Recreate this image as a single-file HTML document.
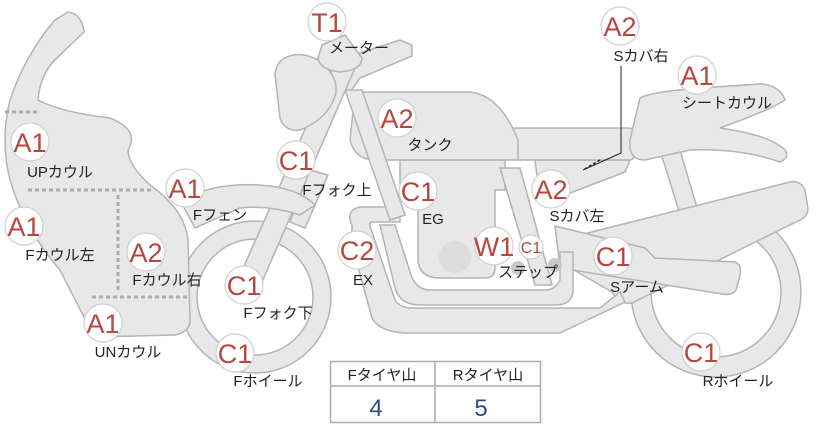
<!DOCTYPE html>
<html><head><meta charset="utf-8"><style>
html,body{margin:0;padding:0;background:#fff;width:822px;height:425px;overflow:hidden}
svg{display:block}
.s{fill:#e8e8e8;stroke:#b3b3b8;stroke-width:1.5}
.g text{font-family:"Liberation Sans",sans-serif;fill:#b8463e;text-anchor:middle}
.l{font-family:"Liberation Sans","Noto Sans CJK JP",sans-serif;font-size:15px;fill:#222;text-anchor:middle}
</style></head><body>
<svg width="822" height="425" viewBox="0 0 822 425" xmlns="http://www.w3.org/2000/svg">
<circle cx="716" cy="292" r="85" class="s"/>
<circle cx="716" cy="292" r="65" fill="#fff" stroke="#b3b3b8" stroke-width="1.5"/>
<circle cx="255" cy="297" r="76" class="s"/>
<circle cx="255" cy="297" r="58" fill="#fff" stroke="#b3b3b8" stroke-width="1.5"/>
<path class="s" d="M660 150 L680 150 L705 235 L688 240 Z"/>
<path class="s" d="M560 240 L790 182 Q800 180 805 190 L808 208 Q808 216 800 220 L632 303 Q620 305 612 292 L560 262 Z"/>
<path class="s" d="M555 226 L645 248 L655 258 L735 262 Q742 265 740 275 L736 290 Q732 296 722 294 L560 268 Z"/>
<path class="s" d="M352 225 Q345 210 360 207 L400 207 L400 222 L372 222 Q368 222 372 232 L395 300 Q400 308 412 308 L600 308 L620 292 L625 302 L560 333 L410 333 Q380 333 372 318 L352 245 Z"/>
<path class="s" d="M380 225 L395 225 L412 278 Q418 290 430 290 L545 290 Q555 290 560 280 L560 252 L573 252 L573 290 Q573 305 555 305 L420 305 Q400 305 395 288 Z"/>
<path class="s" d="M400 160 L505 160 L505 190 L495 190 L495 268 Q495 278 485 278 L440 278 Q418 278 418 258 L418 190 L400 190 Z"/>
<circle cx="455" cy="257" r="16" fill="#dcdcdc"/>
<path class="s" d="M500 168 L520 168 L552 285 L535 285 Z"/>
<path class="s" d="M535 160 L630 160 L625 172 L565 195 L540 200 Z"/>
<rect x="510" y="128" width="125" height="32" rx="6" class="s"/>
<path class="s" d="M640 98 Q650 92 700 88 L760 84 Q780 85 785 100 Q770 110 720 128 Q770 135 785 150 Q790 158 780 162 Q740 148 690 150 L645 160 Q628 160 630 140 Z"/>
<path class="s" d="M355 92 L470 92 Q500 95 518 140 L518 160 L375 160 Q355 160 350 140 Z"/>
<path class="s" d="M338 60 L400 40 L412 45 L412 56 L360 78 L348 95 Z"/>
<path class="s" d="M345 90 L362 90 L405 215 L390 220 Z"/>
<path class="s" d="M335 62 L355 68 L262 282 L240 275 Z"/>
<path class="s" d="M310 170 L328 175 L305 228 L290 222 Z"/>
<path class="s" d="M285 58 Q300 50 318 60 Q338 75 336 92 Q330 118 300 130 Q285 132 280 118 L275 75 Q276 62 285 58 Z"/>
<path class="s" d="M322 45 L345 35 L362 58 Q362 70 340 72 Q320 70 318 58 Z"/>
<path class="s" d="M180 200 Q220 180 270 186 Q300 190 315 205 L300 215 Q270 205 240 208 L195 228 Z"/>
<path class="s" d="M68 12 Q82 14 84 32 L60 55 Q40 72 38 100 Q60 112 110 118 Q140 130 128 150 Q128 165 150 185 Q185 210 188 240 L190 320 Q190 332 175 335 L95 337 Q85 337 88 325 L60 270 Q25 230 10 180 Q0 140 10 100 Q25 55 55 20 Z"/>
<g fill="none" stroke="#aaaab5" stroke-width="3" stroke-dasharray="4 3">
<path d="M5 112 L38 112"/><path d="M28 190 L152 190"/><path d="M118 195 L118 292"/><path d="M92 297 L188 297"/>
</g>
<path d="M621 66 L621 153 L583 170" fill="none" stroke="#222" stroke-width="1"/>
<path d="M600 160 L583 170" fill="none" stroke="#222" stroke-width="1.5" stroke-dasharray="3 2"/>
<circle cx="518" cy="268" r="7" fill="#c8c8c8"/><circle cx="555" cy="265" r="7" fill="#c8c8c8"/>
<g class="g">
<g fill="#fff" stroke="#d0d0d0" stroke-width="1.2">
<circle cx="327" cy="22" r="19"/><circle cx="397" cy="118" r="19"/><circle cx="620" cy="26" r="19"/><circle cx="697" cy="75" r="19"/>
<circle cx="30" cy="142" r="19"/><circle cx="296" cy="160" r="19"/><circle cx="185" cy="188" r="19"/><circle cx="418" cy="191" r="19"/>
<circle cx="551" cy="189" r="19"/><circle cx="24" cy="226" r="19"/><circle cx="146" cy="252" r="19"/><circle cx="357" cy="250" r="19"/>
<circle cx="494" cy="246" r="19"/><circle cx="531" cy="247" r="12"/><circle cx="613" cy="256" r="19"/><circle cx="244" cy="285" r="19"/>
<circle cx="103" cy="323" r="19"/><circle cx="235" cy="353" r="19"/><circle cx="701" cy="352" r="19"/>
</g>
<g font-size="27">
<text x="327" y="32">T1</text><text x="397" y="128">A2</text><text x="620" y="36">A2</text><text x="697" y="85">A1</text>
<text x="30" y="152">A1</text><text x="296" y="170">C1</text><text x="185" y="198">A1</text><text x="418" y="201">C1</text>
<text x="551" y="199">A2</text><text x="24" y="236">A1</text><text x="146" y="262">A2</text><text x="357" y="260">C2</text>
<text x="494" y="256">W1</text><text x="613" y="266">C1</text><text x="244" y="295">C1</text>
<text x="103" y="333">A1</text><text x="235" y="363">C1</text><text x="701" y="362">C1</text>
</g>
<text x="531" y="253" font-size="16">C1</text>
</g>
<g class="l">
<text x="359" y="53">メーター</text><text x="641" y="61">Sカバ右</text><text x="727" y="108">シートカウル</text>
<text x="430" y="150">タンク</text><text x="60" y="177">UPカウル</text><text x="337" y="195">Fフォク上</text>
<text x="220" y="220">Fフェン</text><text x="433" y="224">EG</text><text x="577" y="221">Sカバ左</text>
<text x="60" y="260">Fカウル左</text><text x="167" y="285">Fカウル右</text><text x="363" y="285">EX</text>
<text x="528" y="277">ステップ</text><text x="637" y="292">Sアーム</text><text x="278" y="318">Fフォク下</text>
<text x="128" y="357">UNカウル</text><text x="268" y="386">Fホイール</text><text x="738" y="386">Rホイール</text>
</g>
<rect x="330.5" y="361.5" width="210" height="61" fill="#fff" stroke="#aaaab5" stroke-width="1.5"/>
<line x1="330" y1="386" x2="541" y2="386" stroke="#aaaab5" stroke-width="1.5"/>
<line x1="435" y1="361" x2="435" y2="423" stroke="#aaaab5" stroke-width="1.5"/>
<text x="382" y="380" class="l">Fタイヤ山</text><text x="488" y="380" class="l">Rタイヤ山</text>
<text x="376" y="416" font-family="Liberation Sans,sans-serif" font-size="24" fill="#2e4a8e" text-anchor="middle">4</text>
<text x="481" y="416" font-family="Liberation Sans,sans-serif" font-size="24" fill="#2e4a8e" text-anchor="middle">5</text>
</svg>
</body></html>
